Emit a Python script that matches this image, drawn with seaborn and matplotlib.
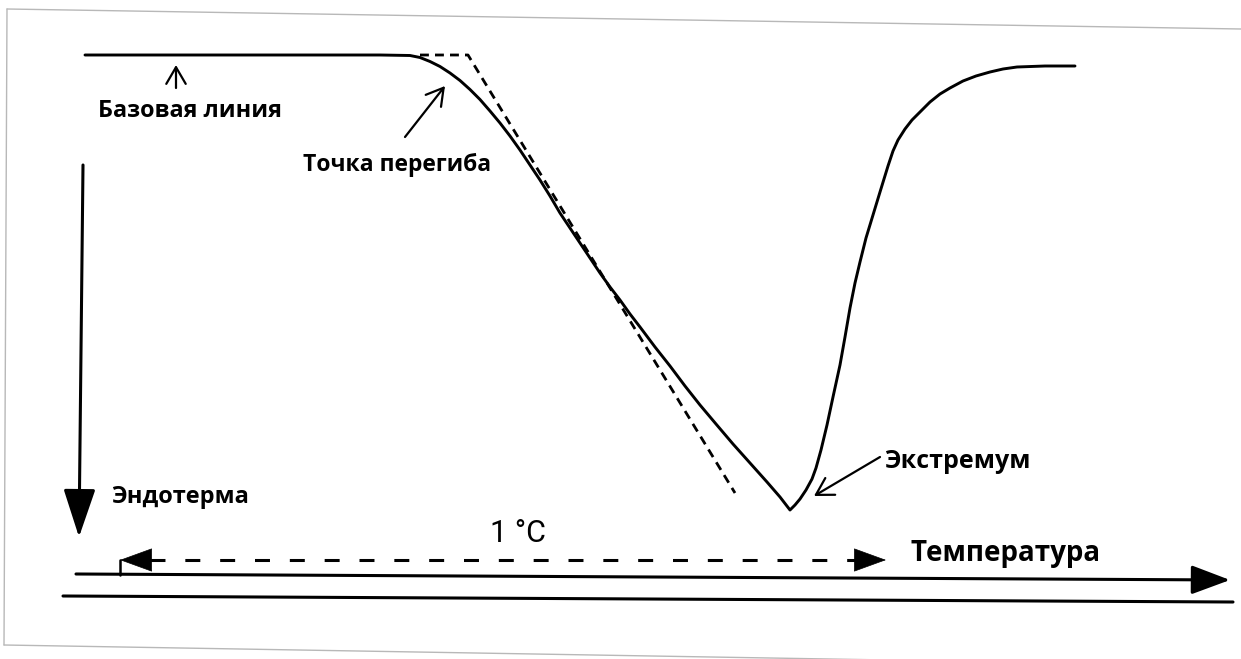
import matplotlib
matplotlib.use("Agg")
import matplotlib.pyplot as plt
import seaborn as sns
import pandas as pd

# DSC curve (pixel coords, y grows downwards)
curve_x = [85, 200, 300, 380, 410, 420, 430, 440, 450, 460, 470, 480, 490, 500, 510,
           520, 530, 540, 550, 560, 570, 580, 590, 600, 610, 620, 630, 640, 655,
           670, 685, 700, 716, 733, 750, 767, 780, 790, 795, 800, 806, 812, 816,
           821, 827, 833, 840, 845, 850, 855, 860, 866, 873, 880, 888, 893, 898,
           905, 912, 920, 930, 940, 950, 963, 976, 990, 1003, 1017, 1045, 1075]
curve_y = [55, 55, 55, 55, 55.5, 57.5, 61.5, 66.5, 73, 80.5, 89.5, 99.5, 111, 123, 136,
           150, 165, 180, 196, 213, 228, 243, 258, 273, 287, 300, 314, 327, 347,
           366, 386, 405, 424, 444, 463, 482, 497, 510, 505, 499, 490, 479, 468,
           450, 425, 397, 365, 337, 308, 283, 262, 238, 215, 192, 166, 151, 140,
           129, 120, 112, 102, 94, 88, 81, 76, 72, 69, 67, 66, 66]

# tangent through the inflection point (dashed)
tangent_x = [420, 468, 735]
tangent_y = [55, 55, 493]

labels = ["Базовая линия", "Точка перегиба", "Экстремум", "Эндотерма", "1 °C", "Температура"]

sns.set_theme(style="white")
plt.rcParams["font.family"] = ["Open Sans", "DejaVu Sans"]
plt.rcParams["text.color"] = "black"

fig = plt.figure(figsize=(12.41, 6.59), dpi=100)
ax = fig.add_axes([0, 0, 1, 1])
ax.set_xlim(0, 1241)
ax.set_ylim(659, 0)
ax.axis("off")

curve = pd.DataFrame({"x": curve_x, "y": curve_y})
tang = pd.DataFrame({"x": tangent_x, "y": tangent_y})
sns.lineplot(data=curve, x="x", y="y", sort=False, color="black", lw=2.1, ax=ax)
sns.lineplot(data=tang, x="x", y="y", sort=False, color="black", lw=2.0,
             linestyle=(0, (3.2, 2.2)), ax=ax)

# scanned page border
ax.plot([7, 1241], [9, 29], color="#b8b8b8", lw=1)
ax.plot([7, 4], [9, 645], color="#b8b8b8", lw=1)
ax.plot([4, 1241], [645, 666], color="#b8b8b8", lw=1)

# temperature axis lines
ax.annotate("", xy=(1230, 580), xytext=(76, 574),
            arrowprops=dict(arrowstyle="-|>,head_length=1.2,head_width=0.45",
                            mutation_scale=20, lw=2.2, color="black",
                            shrinkA=0, shrinkB=0))
ax.plot([63, 1233], [596, 602], color="black", lw=2.2)

# 1 °C span (dashed double arrow)
ax.plot([150, 856], [560, 560], color="black", lw=2.2, linestyle=(0, (4.9, 6.5)))
ax.plot([120, 120], [560, 575], color="black", lw=1.8)
ax.annotate("", xy=(120, 560), xytext=(152, 560),
            arrowprops=dict(arrowstyle="-|>,head_length=1.1,head_width=0.4",
                            mutation_scale=20, lw=0.5, color="black",
                            shrinkA=0, shrinkB=0))
ax.annotate("", xy=(886, 560), xytext=(854, 560),
            arrowprops=dict(arrowstyle="-|>,head_length=1.1,head_width=0.4",
                            mutation_scale=20, lw=0.5, color="black",
                            shrinkA=0, shrinkB=0))

# endotherm arrow
ax.annotate("", xy=(79, 537), xytext=(83, 165),
            arrowprops=dict(arrowstyle="-|>,head_length=1.5,head_width=0.5",
                            mutation_scale=20, lw=2.2, color="black",
                            shrinkA=0, shrinkB=0))

# pointer arrows
thin = dict(arrowstyle="->,head_length=0.6,head_width=0.35", mutation_scale=20,
            lw=1.6, color="black", shrinkA=0, shrinkB=0)
ax.annotate("", xy=(176, 65), xytext=(176, 88), arrowprops=thin)
ax.annotate("", xy=(445, 86), xytext=(405, 137), arrowprops=thin)
ax.annotate("", xy=(814, 496), xytext=(880, 457), arrowprops=thin)

bold = dict(fontweight="bold", color="black", va="center", ha="center")
ax.text(190, 111, labels[0], fontsize=16.8, **bold)
ax.text(397, 165, labels[1], fontsize=16.5, **bold)
ax.text(957, 462, labels[2], fontsize=18, **bold)
ax.text(180, 497, labels[3], fontsize=17, **bold)
ax.text(518, 534, labels[4], fontsize=22, ha="center", va="center", color="black",
        fontfamily="Roboto")
ax.text(1006, 553, labels[5], fontsize=20, **bold)

fig.savefig("out.png", dpi=100, facecolor="white")
